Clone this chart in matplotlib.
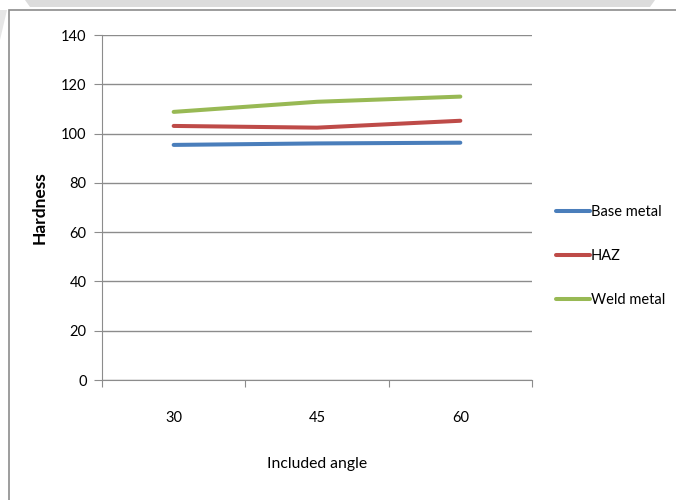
import matplotlib.pyplot as plt
from matplotlib.patches import Rectangle, Polygon

angles = ["30", "45", "60"]
base_metal = [95.4, 96.0, 96.3]
haz = [103.1, 102.4, 105.2]
weld_metal = [108.8, 112.9, 115.0]
series_names = ["Base metal", "HAZ", "Weld metal"]
colors = ["#4A7EBB", "#BE4B48", "#98B954"]
yticks = [0, 20, 40, 60, 80, 100, 120, 140]

plt.rcParams['font.family'] = ['Lato', 'DejaVu Sans']

W, H = 676, 500
fig = plt.figure(figsize=(W / 100, H / 100), dpi=100)

# faint watermark band at top and chart border
fig.add_artist(Polygon([(25 / W, 1), (655 / W, 1), (650 / W, 1 - 7 / H), (30 / W, 1 - 7 / H)],
                       closed=True, transform=fig.transFigure, facecolor="#dcdcdc", edgecolor="none"))
fig.add_artist(Polygon([(0, 1 - 10 / H), (7 / W, 1 - 10 / H), (0, 1 - 40 / H)],
                       closed=True, transform=fig.transFigure, facecolor="#e6e6e6", edgecolor="none"))
fig.add_artist(Rectangle((8.5 / W, -0.1), 1.2, 1.1 - 10.5 / H, transform=fig.transFigure,
                         facecolor="none", edgecolor="#8c8c8c", linewidth=1.2))

ax = fig.add_axes([102 / W, 1 - 380 / H, 430 / W, 345 / H])

x = list(range(len(angles)))
for vals, name, c in zip([base_metal, haz, weld_metal], series_names, colors):
    ax.plot(x, vals, color=c, linewidth=2.9, label=name, solid_capstyle="round")

ax.set_xlim(-0.5, len(angles) - 0.5)
ax.set_ylim(0, 140)
ax.set_yticks(yticks)
ax.yaxis.grid(True, color="#8c8c8c", linewidth=1.0)
ax.set_axisbelow(True)

ax.set_xticks([i - 0.5 for i in range(len(angles) + 1)])
ax.set_xticklabels([])
ax.set_xticks(x, minor=True)
ax.set_xticklabels(angles, minor=True)
ax.tick_params(axis="x", which="minor", length=0, pad=22.5, labelsize=10.5)
ax.tick_params(axis="x", which="major", length=5, color="#8c8c8c", direction="out")
ax.tick_params(axis="y", length=6, color="#8c8c8c", labelsize=10.5, pad=5)

for s in ["top", "right"]:
    ax.spines[s].set_visible(False)
for s in ["left", "bottom"]:
    ax.spines[s].set_color("#8c8c8c")

ax.set_ylabel("Hardness", fontsize=12.5, fontweight="bold")
ax.yaxis.set_label_coords(-0.127, 0.5)
ax.set_xlabel("Included angle", fontsize=11.3)
ax.xaxis.set_label_coords(0.5, -0.222)

fig.legend(loc="center left", bbox_to_anchor=(556 / W, 1 - 256 / H), frameon=False,
           fontsize=10.5, handlelength=2.35, handletextpad=0.05, labelspacing=2.05,
           borderpad=0, borderaxespad=0)

plt.savefig("out.png", dpi=100)
